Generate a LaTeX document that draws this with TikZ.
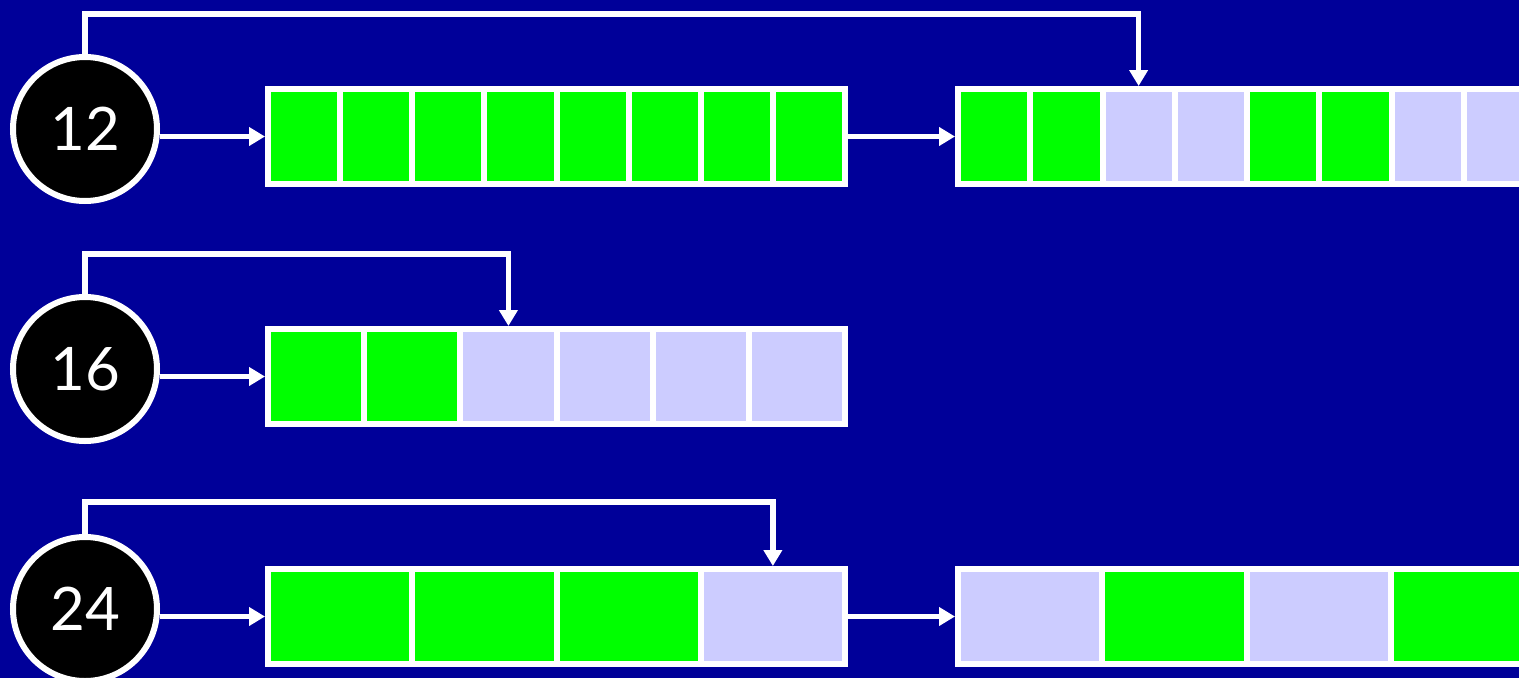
\documentclass[tikz,border=0pt]{standalone}
\usepackage{fontspec}
\setmainfont{Lato}
\usetikzlibrary{arrows.meta}
\definecolor{bg}{RGB}{0,0,153}
\definecolor{used}{RGB}{0,255,0}
\definecolor{free}{RGB}{204,204,255}
\tikzset{
  sizeclass/.style={circle, fill=black, draw=white, line width=6pt,
    minimum size=144pt, inner sep=0pt, text=white,
    font=\fontsize{60}{60}\selectfont},
  cell/.style={rectangle, draw=white, line width=6pt, inner sep=0pt,
    minimum height=95pt, anchor=west},
  usedcell/.style={cell, fill=used},
  freecell/.style={cell, fill=free},
  link/.style={draw=white, line width=5.5pt,
    -{Triangle[length=16pt,width=18pt]}},
}
\begin{document}
\begin{tikzpicture}[x=1pt,y=-1pt]
\useasboundingbox (0,0) rectangle (1519,678);
\fill[bg] (0,0) rectangle (1519,678);
\clip (0,0) rectangle (1519,678);

% ---- size class 12: two blocks of eight slots ----
\node[sizeclass] (c12) at (85,129) {12};
\foreach \s [count=\i from 0] in {used,used,used,used,used,used,used,used}
  \node[\s cell, minimum width=72.125pt] (a\i) at (265+72.125*\i,136.5) {};
\foreach \s [count=\i from 0] in {used,used,free,free,used,used,free,free}
  \node[\s cell, minimum width=72.25pt] (b\i) at (955+72.25*\i,136.5) {};
\draw[link] (c12.east |- a0.west) -- (a0.west);
\draw[link] (a7.east) -- (b0.west);
\draw[link] (c12.north) -- (c12.north |- 0,14) -- (b2.north |- 0,14) -- (b2.north);

% ---- size class 16: one block of six slots ----
\node[sizeclass] (c16) at (85,369) {16};
\foreach \s [count=\i from 0] in {used,used,free,free,free,free}
  \node[\s cell, minimum width=96.17pt] (d\i) at (265+96.17*\i,376.5) {};
\draw[link] (c16.east |- d0.west) -- (d0.west);
\draw[link] (c16.north) -- (c16.north |- 0,254) -- (d2.north |- 0,254) -- (d2.north);

% ---- size class 24: two blocks of four slots ----
\node[sizeclass] (c24) at (85,609) {24};
\foreach \s [count=\i from 0] in {used,used,used,free}
  \node[\s cell, minimum width=144.25pt] (e\i) at (265+144.25*\i,616.5) {};
\foreach \s [count=\i from 0] in {free,used,free,used}
  \node[\s cell, minimum width=144.25pt] (f\i) at (955+144.25*\i,616.5) {};
\draw[link] (c24.east |- e0.west) -- (e0.west);
\draw[link] (e3.east) -- (f0.west);
\draw[link] (c24.north) -- (c24.north |- 0,502) -- (e3.north |- 0,502) -- (e3.north);
\end{tikzpicture}
\end{document}
